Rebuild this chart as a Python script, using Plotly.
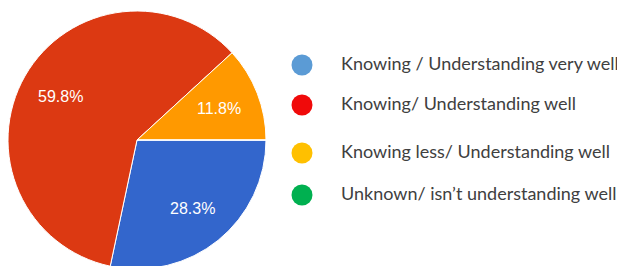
import math
import plotly.graph_objects as go

categories = [
    "Knowing / Understanding very well",
    "Knowing/ Understanding well",
    "Knowing less/ Understanding well",
    "Unknown/ isn\u2019t understanding well",
]
values = [28.3, 59.8, 11.8, 0.0]
pie_colors = ["#3366CC", "#DC3912", "#FF9900", "#109618"]
legend_colors = ["#5B9BD5", "#F00A0A", "#FFC000", "#00B050"]

W, H = 625, 266
OFF = 8  # page body margin in the browser
MT, MB = 2, 4
DOM_W = 258
dom = dict(x=[0, DOM_W / W], y=[0, 1])

fig = go.Figure()

fig.add_trace(go.Pie(
    labels=categories,
    values=values,
    sort=False,
    direction="clockwise",
    rotation=90,
    marker=dict(colors=pie_colors, line=dict(color="white", width=1)),
    textinfo="none",
    showlegend=False,
    hoverinfo="label+value",
    domain=dom,
))

# percentage labels: placed at each slice's mid-angle, derived from the values
total = sum(values)
R = min(DOM_W, H - MT - MB) / 2
cx, cy = DOM_W / 2, MT + (H - MT - MB) / 2
acc = 0.0
for v in values:
    mid = math.radians((acc + v / 2) / total * 360)
    acc += v
    if v <= 0:
        continue
    fig.add_annotation(
        x=cx + 0.68 * R * math.cos(mid),
        y=cy + 0.68 * R * math.sin(mid),
        xref="x", yref="y",
        text=f"{v:.1f}%",
        showarrow=False,
        font=dict(family="Liberation Sans, Arial", size=16, color="white"),
    )

# custom legend column
leg_y = [65 - OFF, 105 - OFF, 153 - OFF, 195 - OFF]
fig.add_trace(go.Scatter(
    x=[302 - OFF] * len(categories),
    y=leg_y,
    mode="markers",
    marker=dict(size=21, color=legend_colors, symbol="circle"),
    showlegend=False,
    hoverinfo="skip",
))
fig.add_trace(go.Scatter(
    x=[341 - OFF] * len(categories),
    y=leg_y,
    mode="text",
    text=categories,
    textposition="middle right",
    textfont=dict(family="Lato, Carlito, Calibri, sans-serif", size=18, color="#404040"),
    showlegend=False,
    hoverinfo="skip",
))

fig.update_layout(
    width=W, height=H,
    margin=dict(l=0, r=0, t=MT, b=MB),
    paper_bgcolor="white",
    plot_bgcolor="rgba(0,0,0,0)",
    xaxis=dict(range=[0, W], visible=False, fixedrange=True),
    yaxis=dict(range=[H - MB, MT], visible=False, fixedrange=True),
)

fig.write_html("out.html")
